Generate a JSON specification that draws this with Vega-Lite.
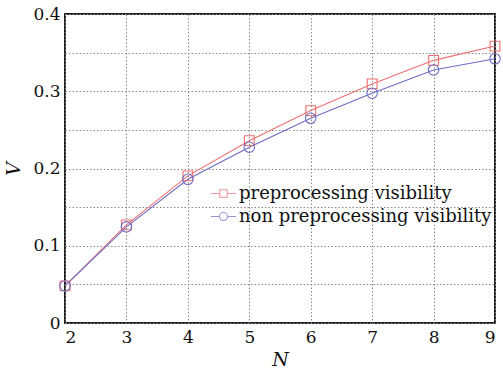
{
  "$schema": "https://vega.github.io/schema/vega-lite/v6.json",
  "width": 430,
  "height": 309,
  "autosize": {"type": "none"},
  "padding": {"left": 65, "top": 14, "right": 8, "bottom": 52},
  "background": "#ffffff",
  "config": {
    "view": {"stroke": "#222222", "strokeWidth": 2},
    "font": "DejaVu Serif",
    "axis": {
      "labelFont": "DejaVu Serif",
      "labelFontSize": 17,
      "labelColor": "#111111",
      "titleFont": "DejaVu Serif",
      "titleFontSize": 19,
      "titleFontStyle": "italic",
      "titleFontWeight": "normal",
      "titleColor": "#111111",
      "domain": false,
      "ticks": false,
      "gridColor": "#8a8a8a",
      "gridDash": [1.5, 2],
      "gridWidth": 1,
      "gridOpacity": 1
    }
  },
  "data": {
    "values": [
      {"N": 2, "V": 0.048, "series": "preprocessing visibility"},
      {"N": 3, "V": 0.127, "series": "preprocessing visibility"},
      {"N": 4, "V": 0.1905, "series": "preprocessing visibility"},
      {"N": 5, "V": 0.236, "series": "preprocessing visibility"},
      {"N": 6, "V": 0.275, "series": "preprocessing visibility"},
      {"N": 7, "V": 0.3095, "series": "preprocessing visibility"},
      {"N": 8, "V": 0.340, "series": "preprocessing visibility"},
      {"N": 9, "V": 0.3585, "series": "preprocessing visibility"},
      {"N": 2, "V": 0.048, "series": "non preprocessing visibility"},
      {"N": 3, "V": 0.1245, "series": "non preprocessing visibility"},
      {"N": 4, "V": 0.186, "series": "non preprocessing visibility"},
      {"N": 5, "V": 0.2275, "series": "non preprocessing visibility"},
      {"N": 6, "V": 0.265, "series": "non preprocessing visibility"},
      {"N": 7, "V": 0.2975, "series": "non preprocessing visibility"},
      {"N": 8, "V": 0.3275, "series": "non preprocessing visibility"},
      {"N": 9, "V": 0.342, "series": "non preprocessing visibility"}
    ]
  },
  "encoding": {
    "x": {
      "field": "N", "type": "quantitative",
      "scale": {"domain": [2, 9], "nice": false, "zero": false},
      "axis": {"values": [2, 3, 4, 5, 6, 7, 8, 9], "title": "N", "labelPadding": 6, "titlePadding": 5, "format": "d"}
    },
    "y": {
      "field": "V", "type": "quantitative",
      "scale": {"domain": [0, 0.4], "nice": false},
      "axis": {
        "values": [0, 0.05, 0.1, 0.15, 0.2, 0.25, 0.3, 0.35, 0.4],
        "format": ".1~f",
        "labelExpr": "round(datum.value*100) % 10 == 0 ? datum.label : ''",
        "title": "V", "labelPadding": 5, "titlePadding": 9
      }
    }
  },
  "layer": [
    {
      "transform": [{"filter": "datum.series == 'preprocessing visibility'"}],
      "mark": {"type": "line", "strokeWidth": 1.1, "color": "#ee6f6f"}
    },
    {
      "transform": [{"filter": "datum.series == 'non preprocessing visibility'"}],
      "mark": {"type": "line", "strokeWidth": 1.1, "color": "#6c6cc4"}
    },
    {
      "transform": [{"filter": "datum.series == 'preprocessing visibility'"}],
      "mark": {"type": "point", "shape": "square", "filled": false, "size": 95, "strokeWidth": 1.1, "opacity": 1, "color": "#ee6f6f"}
    },
    {
      "transform": [{"filter": "datum.series == 'non preprocessing visibility'"}],
      "mark": {"type": "point", "shape": "circle", "filled": false, "size": 110, "strokeWidth": 1.1, "opacity": 1, "color": "#6c6cc4"}
    },
    {
      "mark": {"type": "point", "filled": false, "size": 625, "strokeWidth": 1.1, "strokeOpacity": 0},
      "encoding": {
        "color": {
          "field": "series", "type": "nominal",
          "scale": {"domain": ["preprocessing visibility", "non preprocessing visibility"], "range": ["#ee6f6f", "#6c6cc4"]},
          "legend": {
            "title": null,
            "orient": "none",
            "legendX": 145,
            "legendY": 166,
            "padding": 0,
            "rowPadding": -1,
            "symbolSize": 625,
            "symbolStrokeWidth": 1.1,
            "labelFont": "DejaVu Serif",
            "labelFontSize": 18,
            "labelColor": "#111111",
            "labelOffset": 2,
            "labelLimit": 400,
            "encode": {"symbols": {"update": {"strokeOpacity": {"value": 1}, "opacity": {"value": 1}}}}
          }
        },
        "shape": {
          "field": "series", "type": "nominal",
          "scale": {
            "domain": ["preprocessing visibility", "non preprocessing visibility"],
            "range": [
              "M-1,0H-0.3M0.3,0H1M-0.3,-0.3H0.3V0.3H-0.3Z",
              "M-1,0H-0.32M0.32,0H1M-0.32,0A0.32,0.32 0 1,0 0.32,0A0.32,0.32 0 1,0 -0.32,0Z"
            ]
          },
          "legend": {
            "title": null,
            "orient": "none",
            "legendX": 145,
            "legendY": 166,
            "padding": 0,
            "rowPadding": -1,
            "symbolSize": 625,
            "symbolStrokeWidth": 1.1,
            "labelFont": "DejaVu Serif",
            "labelFontSize": 18,
            "labelColor": "#111111",
            "labelOffset": 2,
            "labelLimit": 400,
            "encode": {"symbols": {"update": {"strokeOpacity": {"value": 1}, "opacity": {"value": 1}}}}
          }
        }
      }
    }
  ]
}
